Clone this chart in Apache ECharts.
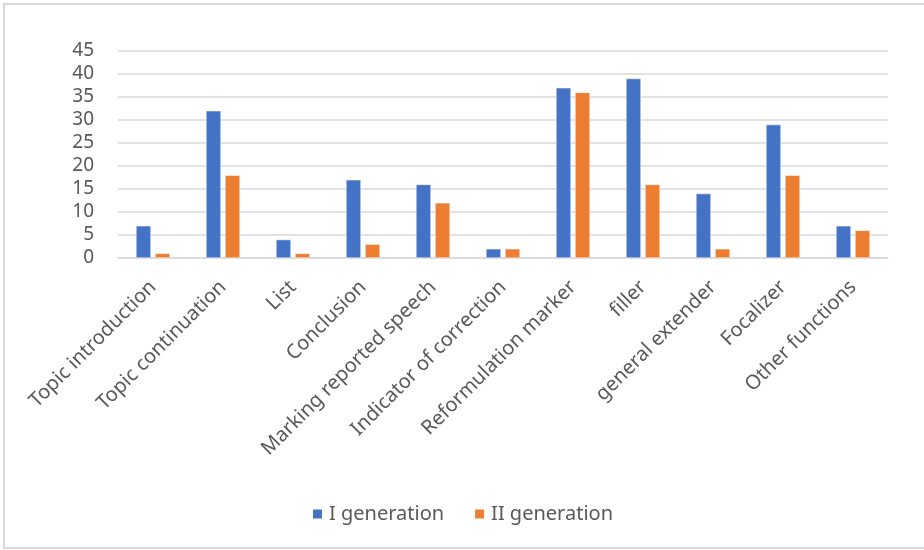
<!DOCTYPE html>
<html>
<head>
<meta charset="utf-8">
<script src="https://cdn.jsdelivr.net/npm/echarts@6/dist/echarts.min.js"></script>
<style>
html,body{margin:0;padding:0;background:#fff;}
#chart{width:924px;height:550px;}
</style>
</head>
<body>
<div id="chart"></div>
<script>
var categories = ["Topic introduction","Topic continuation","List","Conclusion","Marking reported speech","Indicator of correction","Reformulation marker","filler","general extender","Focalizer","Other functions"];
var gen1 = [7,32,4,17,16,2,37,39,14,29,7];
var gen2 = [1,18,1,3,12,2,36,16,2,18,6];
var seriesNames = ["I generation","II generation"];
var yTicks = {min:0, max:45, interval:5};

var chart = echarts.init(document.getElementById('chart'));
var font = "Noto Sans";
chart.setOption({
  animation:false,
  backgroundColor:'#fff',
  textStyle:{fontFamily:font},
  graphic:[{type:'rect', shape:{x:4,y:4,width:940,height:544}, style:{fill:'none', stroke:'#d9d9d9', lineWidth:2}, silent:true}],
  grid:{left:118, right:36, top:51, bottom:292, containLabel:false},
  legend:{
    data:seriesNames, top:499, left:'center', icon:'rect', itemWidth:11, itemHeight:11, itemGap:29,
    textStyle:{fontFamily:font, fontSize:20, color:'#595959', padding:[0,0,0,1]}
  },
  xAxis:{
    type:'category', data:categories,
    axisLine:{lineStyle:{color:'#d9d9d9', width:1.5}},
    axisTick:{show:false},
    axisLabel:{rotate:45, interval:0, fontSize:20, color:'#595959', fontFamily:font, margin:26}
  },
  yAxis:{
    type:'value', min:yTicks.min, max:yTicks.max, interval:yTicks.interval,
    axisLine:{show:false}, axisTick:{show:false},
    splitLine:{lineStyle:{color:'#d9d9d9', width:1.5}},
    axisLabel:{fontSize:19, color:'#595959', fontFamily:font, margin:24}
  },
  series:[
    {name:seriesNames[0], type:'bar', data:gen1, barWidth:15, barGap:'27%',
     itemStyle:{color:'#4472C4', borderColor:'#ffffff', borderWidth:0.5}},
    {name:seriesNames[1], type:'bar', data:gen2, barWidth:15, barGap:'27%',
     itemStyle:{color:'#ED7D31', borderColor:'#ffffff', borderWidth:0.5}}
  ]
});
</script>
</body>
</html>
